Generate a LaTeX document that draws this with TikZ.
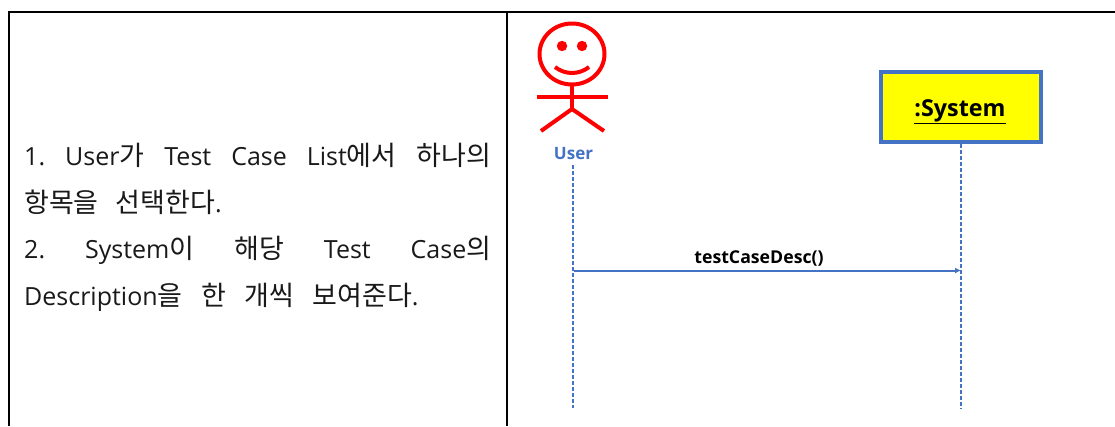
\documentclass[tikz,border=0pt]{standalone}
\usepackage{fontspec}
\setmainfont{Open Sans}
\newfontfamily\krfont{Noto Sans CJK KR}
\newcommand{\kr}[1]{{\krfont\fontsize{27}{27}\selectfont #1}}
\usetikzlibrary{arrows.meta}
\definecolor{umlblue}{HTML}{4472C4}
\definecolor{boxyellow}{HTML}{FFFF00}
\definecolor{purered}{HTML}{FF0000}
\tikzset{
  x=1pt,y=-1pt,
  rule/.style={draw=black,line width=2pt},
  thinrule/.style={draw=black,line width=1.3pt},
  actorline/.style={draw=purered,line width=4pt},
  lifeline/.style={draw=umlblue,line width=1.2pt,dash pattern=on 4pt off 2pt},
  msg/.style={draw=umlblue,line width=2pt,-{Latex[length=6pt,width=6pt]}},
  bodytext/.style={anchor=base west,inner sep=0pt,text width=467pt,font=\fontsize{25}{27}\selectfont,color=black!90},
}
\begin{document}
\begin{tikzpicture}
\useasboundingbox (0,0) rectangle (1115,426);
\fill[white] (0,0) rectangle (1115,426);
% table rules
\coordinate (tl) at (8,12); \coordinate (tm) at (521,12);
\coordinate (tn) at (1051,12); \coordinate (tr) at (1115,12);
\coordinate (lb) at (9,426); \coordinate (lt) at (9,12);
\coordinate (mb) at (507,426); \coordinate (mt) at (507,12);
\draw[rule] (tl) -- (tm);
\draw[thinrule] (tm) -- (tn);
\draw[rule] (tn) -- (tr);
\draw[rule] (lt) -- (lb);
\draw[rule] (mt) -- (mb);
% left text
\node[bodytext] (l1) at (24,165) {1.\hfill User\kr{가}\hfill Test\hfill Case\hfill List\kr{에서}\hfill \kr{하나의}};
\node[bodytext] (l2) at (24,212.5) {\kr{항목을}\hspace{17pt}\kr{선택한다}.};
\node[bodytext] (l3) at (24,258.5) {2.\hfill System\kr{이}\hfill \kr{해당}\hfill Test\hfill Case\kr{의}};
\node[bodytext] (l4) at (24,305.5) {Description\kr{을}\hspace{18.5pt}\kr{한}\hspace{18.5pt}\kr{개씩}\hspace{18.5pt}\kr{보여준다}.};
% actor
\draw[actorline] (572,54) ellipse [x radius=32.5,y radius=30.5];
\fill[purered] (562,46) circle (5.2) (582,46) circle (5.2);
\draw[actorline] (555,67) .. controls (565,75) and (579,75) .. (589,67);
\draw[actorline] (572,85) -- (572,109);
\draw[actorline] (537,96.5) -- (608,96.5);
\draw[actorline] (541,131) -- (572,109) -- (604,131);
\node[inner sep=0pt,text=umlblue,font=\fontsize{17}{17}\selectfont\bfseries] (user) at (573.5,154) {User};
% system
\node[draw=umlblue,fill=boxyellow,line width=4pt,minimum width=160pt,minimum height=70pt,inner sep=0pt] (system) at (960.5,106.5) {};
\node[inner sep=0pt,anchor=base,font=\fontsize{23.3}{24}\selectfont\bfseries] (systemlabel) at (960,116.5) {\underline{:System}};
% lifelines
\coordinate (uend) at (573,408);
\coordinate (send) at (961,408);
\coordinate (ustart) at (573,165);
\draw[lifeline] (ustart) -- (uend);
\draw[lifeline] (system.south -| send) -- (send);
\coordinate (msgA) at (574,270.5);
\coordinate (msgB) at (961,270.5);
\draw[msg] (msgA) -- (msgB);
\node[inner sep=0pt,font=\fontsize{17.7}{18}\selectfont\bfseries] (msglabel) at (759,258) {testCaseDesc()};
\end{tikzpicture}
\end{document}
